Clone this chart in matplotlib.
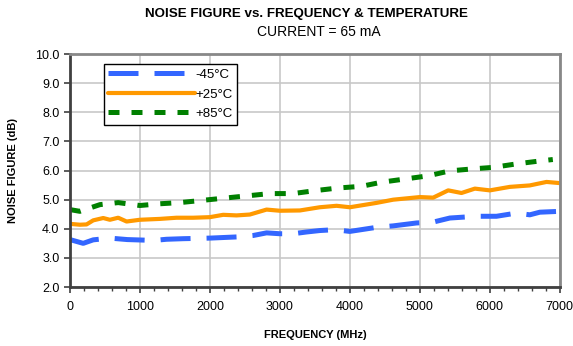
import matplotlib.pyplot as plt
from matplotlib.ticker import MultipleLocator

plt.rcParams['font.family'] = ['Liberation Sans', 'DejaVu Sans']

# -45C
freq_cold = [0, 190, 333, 571, 819, 1200, 1380, 1619, 2000, 2381, 2619, 2810, 3000, 3190,
             3380, 3571, 3786, 4000, 4381, 4619, 4952, 5190, 5429, 5810, 6095, 6381,
             6571, 6714, 7000]
nf_cold = [3.63, 3.50, 3.62, 3.68, 3.63, 3.60, 3.64, 3.66, 3.68, 3.72, 3.77, 3.86, 3.83, 3.83,
           3.89, 3.94, 3.97, 3.91, 4.05, 4.10, 4.20, 4.23, 4.37, 4.43, 4.43, 4.54,
           4.48, 4.57, 4.60]

# +25C
freq_room = [0, 143, 238, 333, 476, 571, 690, 810, 1000, 1286, 1524, 1762, 2000, 2190, 2381,
             2571, 2810, 3000, 3286, 3571, 3810, 4000, 4381, 4619, 5000, 5190, 5405,
             5595, 5786, 6000, 6286, 6571, 6810, 7000]
nf_room = [4.17, 4.14, 4.15, 4.29, 4.37, 4.31, 4.38, 4.25, 4.31, 4.34, 4.38, 4.38, 4.40, 4.48, 4.46,
           4.49, 4.66, 4.62, 4.63, 4.74, 4.79, 4.74, 4.89, 5.00, 5.09, 5.07, 5.32,
           5.23, 5.38, 5.32, 5.44, 5.49, 5.61, 5.57]

# +85C
freq_hot = [0, 143, 429, 690, 1000, 1286, 1571, 1905, 2190, 2524, 2857, 3190, 3500, 3824,
            4167, 4452, 4786, 5119, 5429, 5762, 6048, 6381, 6714, 6900]
nf_hot = [4.66, 4.60, 4.83, 4.90, 4.80, 4.86, 4.90, 4.98, 5.05, 5.13, 5.21, 5.21, 5.31, 5.40,
          5.46, 5.60, 5.71, 5.82, 5.99, 6.06, 6.11, 6.23, 6.33, 6.38]

labels = ['-45°C', '+25°C', '+85°C']

fig = plt.figure(figsize=(5.73, 3.46), dpi=100)
ax = fig.add_axes([0.122, 0.1705, 0.855, 0.673])

ax.plot(freq_cold, nf_cold, color='#3366ff', lw=3.6, dashes=(6, 3.2), label=labels[0])
ax.plot(freq_room, nf_room, color='#ff9900', lw=3.0, solid_capstyle='round', label=labels[1])
ax.plot(freq_hot, nf_hot, color='#008000', lw=3.6, dashes=(2.2, 2.4), label=labels[2])

ax.set_xlim(0, 7000)
ax.set_ylim(2, 10)
ax.xaxis.set_major_locator(MultipleLocator(1000))
ax.xaxis.set_minor_locator(MultipleLocator(200))
ax.yaxis.set_major_locator(MultipleLocator(1))
ax.yaxis.set_major_formatter(plt.FormatStrFormatter('%.1f'))
ax.grid(True, which='major', color='#c8c8c8', lw=1.2)
ax.set_axisbelow(True)

ax.tick_params(axis='both', which='major', direction='out', length=4, width=1.2,
               labelsize=9, color='#404040')
ax.tick_params(axis='x', which='minor', direction='out', length=3, width=1, color='#404040')
ax.tick_params(axis='x', pad=6)

for s in ['left', 'bottom']:
    ax.spines[s].set_color('#404040')
    ax.spines[s].set_linewidth(2)
for s in ['top', 'right']:
    ax.spines[s].set_color('#888888')
    ax.spines[s].set_linewidth(2)

ax.set_xlabel('FREQUENCY (MHz)', fontsize=8, fontweight='bold', labelpad=12)
ax.set_ylabel('NOISE FIGURE (dB)', fontsize=8, fontweight='bold', labelpad=12)

fig.text(0.535, 0.96, 'NOISE FIGURE vs. FREQUENCY & TEMPERATURE', ha='center', va='center',
         fontsize=9.6, fontweight='bold')
fig.text(0.557, 0.908, 'CURRENT = 65 mA', ha='center', va='center', fontsize=10)

leg = ax.legend(loc='upper left', bbox_to_anchor=(0.069, 0.957), fontsize=9.5, frameon=True,
                fancybox=False, edgecolor='black', framealpha=1, handlelength=6.6,
                handletextpad=0.0, borderpad=0.35, labelspacing=0.55, borderaxespad=0)
leg.get_frame().set_linewidth(1)

fig.savefig('out.png', dpi=100)
